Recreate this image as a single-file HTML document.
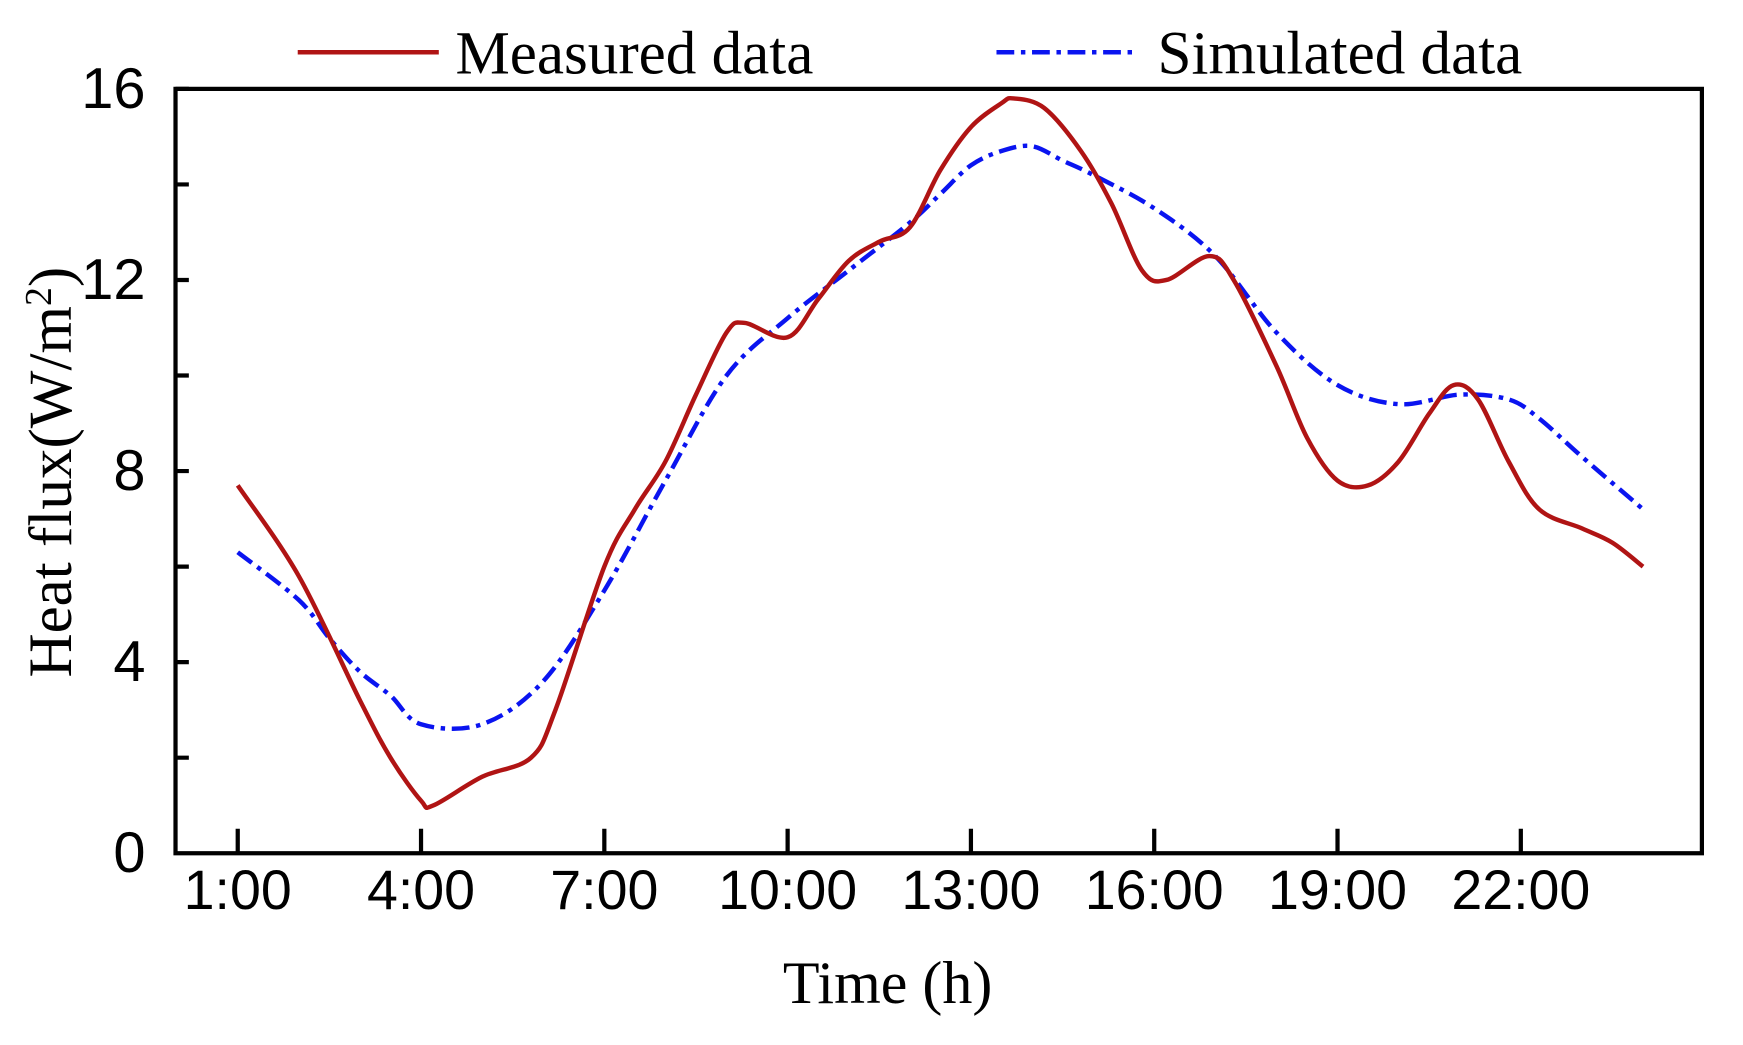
<!DOCTYPE html>
<html><head><meta charset="utf-8"><style>html,body{margin:0;padding:0;background:#fff}svg{display:block}</style></head>
<body>
<svg id="s" width="1743" height="1045" viewBox="0 0 1569 940.6" preserveAspectRatio="none" xmlns="http://www.w3.org/2000/svg">
<rect x="0" y="0" width="1569" height="941" fill="#fff"/>
<g stroke="#000" stroke-width="3.8" fill="none">
<rect x="158" y="80" width="1374" height="688"/>
<path d="M214 768v-22M379 768v-22M544 768v-22M709 768v-22M874 768v-22M1039 768v-22M1204 768v-22M1369 768v-22"/>
<path d="M158 80h12M158 166h12M158 252h12M158 338h12M158 424h12M158 510h12M158 596h12M158 682h12"/>
</g>
<g font-family="Liberation Sans, Arial, sans-serif" font-size="52" fill="#000" text-anchor="end">
<text x="131" y="97">16</text><text x="131" y="269">12</text><text x="131" y="441">8</text><text x="131" y="613">4</text><text x="131" y="785">0</text>
</g>
<g font-family="Liberation Sans, Arial, sans-serif" font-size="50" fill="#000" text-anchor="middle">
<text x="214" y="818">1:00</text><text x="379" y="818">4:00</text><text x="544" y="818">7:00</text><text x="709" y="818">10:00</text><text x="874" y="818">13:00</text><text x="1039" y="818">16:00</text><text x="1204" y="818">19:00</text><text x="1369" y="818">22:00</text>
</g>
<text x="799" y="903" font-family="Liberation Serif, serif" font-size="54" text-anchor="middle">Time (h)</text>
<text transform="translate(64,425) rotate(-90)" font-family="Liberation Serif, serif" font-size="55" text-anchor="middle">Heat flux(W/m<tspan dy="-18" font-size="34">2</tspan><tspan dy="18">)</tspan></text>
<line x1="268" y1="47" x2="395" y2="47" stroke="#b01414" stroke-width="4"/>
<text x="410" y="66" font-family="Liberation Serif, serif" font-size="55">Measured data</text>
<line x1="897" y1="47" x2="1025" y2="47" stroke="#0a14f0" stroke-width="4" stroke-dasharray="16,6,4,6"/>
<text x="1042" y="66" font-family="Liberation Serif, serif" font-size="55">Simulated data</text>
<polyline id="sim" fill="none" stroke="#0a14f0" stroke-width="4" stroke-dasharray="16,6,4,6" stroke-linejoin="round" points="214,497.1 269,540.1 296.5,574.5 324,604.6 351.5,626.1 379,651.9 434,651.9 489,613.2 544,531.5 599,432.6 654,338 709,286.4 764,243.4 819,200.4 846.5,174.6 874,148.8 901.5,135.9 929,131.6 956.5,144.5 984,157.4 1039,187.5 1094,230.5 1149,299.3 1204,346.6 1259,363.8 1314,355.2 1358,359.5 1385.5,376.7 1424,411.1 1479,458.4"/>
<polyline id="mea" fill="none" stroke="#b01414" stroke-width="4" stroke-linejoin="round" points="214,436.9 269,518.6 324,630.4 351.5,682 379,720.7 390,725 434,699.2 478,682 500,639 544,510 571.5,458.4 599,415.4 626.5,355.2 654,299.3 670.5,290.7 709,303.6 736.5,269.2 764,234.8 791.5,217.6 819,204.7 846.5,153.1 874,114.4 901.5,92.9 912.5,88.6 940,97.2 973,135.9 1000.5,183.2 1028,243.4 1050,252 1088.5,230.5 1110.5,252 1149,329.4 1176.5,393.9 1204,432.6 1231.5,436.9 1259,415.4 1286.5,372.4 1308.5,346.6 1330.5,359.5 1358,415.4 1385.5,458.4 1424,475.6 1451.5,488.5 1479,510"/>
</svg>
<script>
['sim','mea'].forEach(function(id){
var pl=document.getElementById(id);
var p=pl.getAttribute('points').trim().split(/\s+/).map(function(s){return s.split(',').map(Number);});
var d='M'+p[0][0]+' '+p[0][1];
for(var i=0;i<p.length-1;i++){
var p0=p[i-1]||p[i],p1=p[i],p2=p[i+1],p3=p[i+2]||p2;
var c1x=p1[0]+(p2[0]-p0[0])/6,c1y=p1[1]+(p2[1]-p0[1])/6;
var c2x=p2[0]-(p3[0]-p1[0])/6,c2y=p2[1]-(p3[1]-p1[1])/6;
d+=' C'+c1x+' '+c1y+' '+c2x+' '+c2y+' '+p2[0]+' '+p2[1];}
var path=document.createElementNS('http://www.w3.org/2000/svg','path');
['fill','stroke','stroke-width','stroke-dasharray','stroke-linejoin'].forEach(function(a){if(pl.getAttribute(a))path.setAttribute(a,pl.getAttribute(a));});
path.setAttribute('d',d);pl.parentNode.replaceChild(path,pl);});
</script>
</body></html>
